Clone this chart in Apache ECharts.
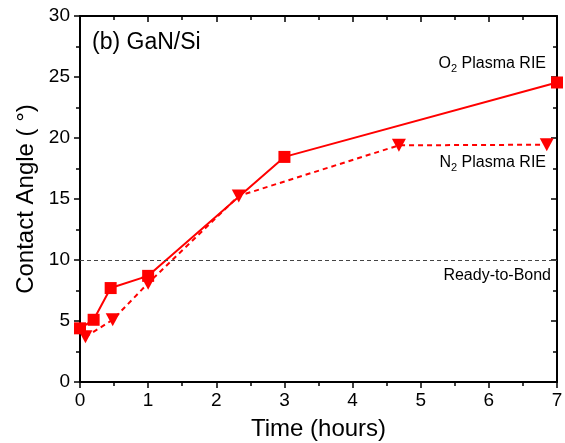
<!DOCTYPE html>
<html><head><meta charset="utf-8">
<script src="https://cdn.jsdelivr.net/npm/echarts@6/dist/echarts.min.js"></script>
<style>html,body{margin:0;padding:0;background:#fff}#c{width:565px;height:443px}</style>
</head><body><div id="c"></div>
<script>
const o2Time = [0, 0.2, 0.45, 1, 3, 7];
const o2Angle = [4.4, 5.1, 7.7, 8.7, 18.45, 24.55];
const n2Time = [0.08, 0.48, 1.0, 2.33, 4.68, 6.85];
const n2Angle = [3.7, 5.1, 8.1, 15.25, 19.4, 19.45];
const readyLevel = 10;

const F = 'Liberation Sans, Arial, sans-serif';
const chart = echarts.init(document.getElementById('c'), null, {renderer:'canvas'});
const pair = (xs, ys) => xs.map((x,i)=>[x, ys[i]]);
const line = ()=>({show:true, onZero:false, lineStyle:{color:'#000', width:2}});
const tick = (inside)=>({show:true, inside:inside, length:6, lineStyle:{color:'#000', width:1.5}});
const minor = ()=>({show:true, splitNumber:2, length:4, lineStyle:{color:'#000', width:1.5}});
chart.setOption({
  animation:false,
  grid:{left:80, right:8, top:16, bottom:61, containLabel:false, outerBoundsMode:'none'},
  xAxis:[{
    type:'value', min:0, max:7, interval:1,
    name:'Time (hours)', nameLocation:'middle', nameGap:35,
    nameTextStyle:{fontFamily:F, fontSize:24, color:'#000'},
    axisLine:line(), axisTick:tick(false), minorTick:minor(),
    axisLabel:{fontFamily:F, fontSize:19, color:'#000', margin:9},
    splitLine:{show:false}, minorSplitLine:{show:false}
  },{
    type:'value', min:0, max:7, interval:1, position:'top',
    axisLine:line(), axisTick:tick(true), minorTick:minor(),
    axisLabel:{show:false}, splitLine:{show:false}
  }],
  yAxis:[{
    type:'value', min:0, max:30, interval:5,
    name:'Contact Angle ( °)', nameLocation:'middle', nameGap:38,
    nameTextStyle:{fontFamily:F, fontSize:24, color:'#000'},
    axisLine:line(), axisTick:tick(false), minorTick:minor(),
    axisLabel:{fontFamily:F, fontSize:19, color:'#000', margin:10},
    splitLine:{show:false}
  },{
    type:'value', min:0, max:30, interval:5, position:'right',
    axisLine:line(), axisTick:tick(true), minorTick:minor(),
    axisLabel:{show:false}, splitLine:{show:false}
  }],
  series:[{
    name:'O2 Plasma RIE', type:'line', data:pair(o2Time,o2Angle),
    symbol:'rect', symbolSize:12, color:'#ff0000',
    lineStyle:{color:'#ff0000', width:2}, itemStyle:{color:'#ff0000'},
    clip:true, z:3,
    markLine:{silent:true, symbol:'none', label:{show:false},
      lineStyle:{color:'#444', type:[4,3], width:1},
      data:[{yAxis:readyLevel}]}
  },{
    name:'N2 Plasma RIE', type:'line', data:pair(n2Time,n2Angle),
    symbol:'triangle', symbolRotate:180, symbolSize:[14,13], color:'#ff0000',
    lineStyle:{color:'#ff0000', width:2, type:[5,4]}, itemStyle:{color:'#ff0000'},
    clip:true, z:3
  }],
  graphic:[
    {type:'text', left:92, top:31, style:{text:'(b) GaN/Si', font:'23px '+F, fill:'#000'}},
    {type:'text', right:19, top:56, style:{rich:{a:{fontFamily:F,fontSize:16,fill:'#000'},s:{fontFamily:F,fontSize:11,fill:'#000',padding:[9,0,0,0]}},text:'{a|O}{s|2}{a| Plasma RIE}'}},
    {type:'text', right:19, top:155, style:{rich:{a:{fontFamily:F,fontSize:16,fill:'#000'},s:{fontFamily:F,fontSize:11,fill:'#000',padding:[9,0,0,0]}},text:'{a|N}{s|2}{a| Plasma RIE}'}},
    {type:'text', right:14, top:268, style:{text:'Ready-to-Bond', font:'16px '+F, fill:'#000'}}
  ]
});
</script></body></html>
